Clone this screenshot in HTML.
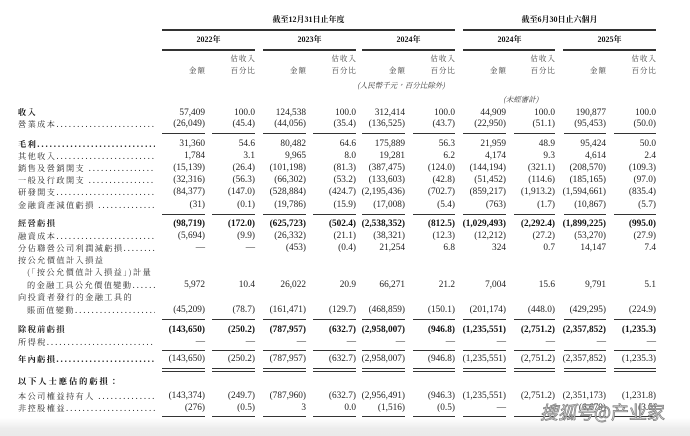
<!DOCTYPE html>
<html>
<head>
<meta charset="utf-8">
<style>
html,body{margin:0;padding:0}
body{width:690px;height:436px;background:#fff;position:relative;overflow:hidden;font-family:"Liberation Serif","Noto Serif CJK TC","Noto Serif CJK SC",serif;color:#222}
.r{position:absolute;left:0;height:12px;line-height:12px;display:grid;grid-template-columns:155px 50px 50px 51px 50px 49px 50px 51px 49px 51px 50px;font-size:9.3px;white-space:nowrap}
.r>span{text-align:right}
.r>div{padding-left:18px;overflow:hidden;font-family:"Noto Serif CJK TC","Noto Serif CJK SC",serif;font-size:8.2px;letter-spacing:1.4px;color:#2a2a2a}
.r>div em{font-style:normal;font-family:"Liberation Serif",serif;font-size:9px;letter-spacing:1.9px}
.r>div.ind{padding-left:27px}
.bd{font-weight:bold;color:#111}
.bl>div{font-weight:bold;color:#111}
.ul{position:absolute;left:0;width:690px;height:1px}
.ul b{position:absolute;top:0;height:1px;background:#333}
.ul b:nth-child(1){left:162px;width:43px}
.ul b:nth-child(2){left:212px;width:43px}
.ul b:nth-child(3){left:263px;width:43px}
.ul b:nth-child(4){left:313px;width:43px}
.ul b:nth-child(5){left:362px;width:43px}
.ul b:nth-child(6){left:413px;width:42px}
.ul b:nth-child(7){left:463px;width:43px}
.ul b:nth-child(8){left:514px;width:41px}
.ul b:nth-child(9){left:564px;width:42px}
.ul b:nth-child(10){left:614px;width:42px}
.hl{position:absolute;height:2px;background:#333}
.h{position:absolute;font-size:8px;line-height:10px;white-space:nowrap;font-family:"Liberation Serif","Noto Serif CJK TC","Noto Serif CJK SC",serif}
.hb{font-weight:bold;color:#111;text-align:center}
.sub{font-family:"Noto Serif CJK TC","Noto Serif CJK SC",serif;font-size:7.4px;letter-spacing:1.1px;color:#3a3a3a;text-align:right}
.it{font-style:italic;color:#333;font-size:7.5px;font-family:"Noto Serif CJK TC","Noto Serif CJK SC",serif}
.band{position:absolute;left:0;top:418px;width:690px;height:18px;background:linear-gradient(#fff,#ececec 60%,#eaeaea)}
.wm{position:absolute;left:540px;top:401px;font-family:"Noto Sans CJK SC",sans-serif;font-size:18px;line-height:22px;color:rgba(225,225,225,0.95);-webkit-text-stroke:0.7px #7a7a7a;white-space:nowrap}
.wm i{font-style:italic}
</style>
</head>
<body>

<div class="h hb" style="left:162px;width:293px;top:15px">截至12月31日止年度</div>
<div class="h hb" style="left:463px;width:193px;top:15px">截至6月30日止六個月</div>
<div class="hl" style="left:162px;width:293px;top:29px"></div>
<div class="hl" style="left:463px;width:193px;top:29px"></div>

<div class="h hb" style="left:162px;width:93px;top:35px">2022年</div>
<div class="h hb" style="left:263px;width:93px;top:35px">2023年</div>
<div class="h hb" style="left:362px;width:93px;top:35px">2024年</div>
<div class="h hb" style="left:463px;width:93px;top:35px">2024年</div>
<div class="h hb" style="left:563px;width:93px;top:35px">2025年</div>
<div class="hl" style="left:162px;width:93px;top:49px"></div>
<div class="hl" style="left:263px;width:93px;top:49px"></div>
<div class="hl" style="left:362px;width:93px;top:49px"></div>
<div class="hl" style="left:463px;width:92px;top:49px"></div>
<div class="hl" style="left:563px;width:93px;top:49px"></div>

<div class="h sub" style="left:205px;width:51px;top:54px">估收入</div>
<div class="h sub" style="left:306px;width:51px;top:54px">估收入</div>
<div class="h sub" style="left:405px;width:51px;top:54px">估收入</div>
<div class="h sub" style="left:505px;width:51px;top:54px">估收入</div>
<div class="h sub" style="left:606px;width:51px;top:54px">估收入</div>

<div class="h sub" style="left:155px;width:51px;top:66px">金額</div>
<div class="h sub" style="left:205px;width:51px;top:66px">百分比</div>
<div class="h sub" style="left:256px;width:51px;top:66px">金額</div>
<div class="h sub" style="left:306px;width:51px;top:66px">百分比</div>
<div class="h sub" style="left:355px;width:51px;top:66px">金額</div>
<div class="h sub" style="left:405px;width:51px;top:66px">百分比</div>
<div class="h sub" style="left:456px;width:51px;top:66px">金額</div>
<div class="h sub" style="left:505px;width:51px;top:66px">百分比</div>
<div class="h sub" style="left:556px;width:51px;top:66px">金額</div>
<div class="h sub" style="left:606px;width:51px;top:66px">百分比</div>

<div class="h it" style="left:357px;top:81px">(人民幣千元，百分比除外)</div>
<div class="h it" style="left:503px;top:95px">(未經審計)</div>

<div class="r bl" style="top:107px"><div>收入</div><span>57,409</span><span>100.0</span><span>124,538</span><span>100.0</span><span>312,414</span><span>100.0</span><span>44,909</span><span>100.0</span><span>190,877</span><span>100.0</span></div>

<div class="r" style="top:118px"><div>營業成本<em>..................................................</em></div><span>(26,049)</span><span>(45.4)</span><span>(44,056)</span><span>(35.4)</span><span>(136,525)</span><span>(43.7)</span><span>(22,950)</span><span>(51.1)</span><span>(95,453)</span><span>(50.0)</span></div>

<div class="ul" style="top:133px"><b></b><b></b><b></b><b></b><b></b><b></b><b></b><b></b><b></b><b></b></div>

<div class="r bl" style="top:138px"><div>毛利<em>..................................................</em></div><span>31,360</span><span>54.6</span><span>80,482</span><span>64.6</span><span>175,889</span><span>56.3</span><span>21,959</span><span>48.9</span><span>95,424</span><span>50.0</span></div>

<div class="r" style="top:150px"><div>其他收入<em>..................................................</em></div><span>1,784</span><span>3.1</span><span>9,965</span><span>8.0</span><span>19,281</span><span>6.2</span><span>4,174</span><span>9.3</span><span>4,614</span><span>2.4</span></div>

<div class="r" style="top:162px"><div>銷售及營銷開支 <em>..................................................</em></div><span>(15,139)</span><span>(26.4)</span><span>(101,198)</span><span>(81.3)</span><span>(387,475)</span><span>(124.0)</span><span>(144,194)</span><span>(321.1)</span><span>(208,570)</span><span>(109.3)</span></div>

<div class="r" style="top:174px"><div>一般及行政開支 <em>..................................................</em></div><span>(32,316)</span><span>(56.3)</span><span>(66,302)</span><span>(53.2)</span><span>(133,603)</span><span>(42.8)</span><span>(51,452)</span><span>(114.6)</span><span>(185,165)</span><span>(97.0)</span></div>

<div class="r" style="top:186px"><div>研發開支<em>..................................................</em></div><span>(84,377)</span><span>(147.0)</span><span>(528,884)</span><span>(424.7)</span><span>(2,195,436)</span><span>(702.7)</span><span>(859,217)</span><span>(1,913.2)</span><span>(1,594,661)</span><span>(835.4)</span></div>

<div class="r" style="top:199px"><div>金融資產減值虧損 <em>..................................................</em></div><span>(31)</span><span>(0.1)</span><span>(19,786)</span><span>(15.9)</span><span>(17,008)</span><span>(5.4)</span><span>(763)</span><span>(1.7)</span><span>(10,867)</span><span>(5.7)</span></div>

<div class="ul" style="top:214px"><b></b><b></b><b></b><b></b><b></b><b></b><b></b><b></b><b></b><b></b></div>

<div class="r bd" style="top:218px"><div>經營虧損</div><span>(98,719)</span><span>(172.0)</span><span>(625,723)</span><span>(502.4)</span><span>(2,538,352)</span><span>(812.5)</span><span>(1,029,493)</span><span>(2,292.4)</span><span>(1,899,225)</span><span>(995.0)</span></div>

<div class="r" style="top:230px"><div>融資成本<em>..................................................</em></div><span>(5,694)</span><span>(9.9)</span><span>(26,332)</span><span>(21.1)</span><span>(38,321)</span><span>(12.3)</span><span>(12,212)</span><span>(27.2)</span><span>(53,270)</span><span>(27.9)</span></div>

<div class="r" style="top:242px"><div>分佔聯營公司利潤減虧損<em>..................................................</em></div><span>—</span><span>—</span><span>(453)</span><span>(0.4)</span><span>21,254</span><span>6.8</span><span>324</span><span>0.7</span><span>14,147</span><span>7.4</span></div>

<div class="r" style="top:255px"><div>按公允價值計入損益</div></div>

<div class="r" style="top:267px"><div class="ind">(「按公允價值計入損益」)計量</div></div>

<div class="r" style="top:279px"><div class="ind">的金融工具公允價值變動<em>..................................................</em></div><span>5,972</span><span>10.4</span><span>26,022</span><span>20.9</span><span>66,271</span><span>21.2</span><span>7,004</span><span>15.6</span><span>9,791</span><span>5.1</span></div>

<div class="r" style="top:292px"><div>向投資者發行的金融工具的</div></div>

<div class="r" style="top:304px"><div class="ind">賬面值變動<em>..................................................</em></div><span>(45,209)</span><span>(78.7)</span><span>(161,471)</span><span>(129.7)</span><span>(468,859)</span><span>(150.1)</span><span>(201,174)</span><span>(448.0)</span><span>(429,295)</span><span>(224.9)</span></div>

<div class="ul" style="top:319px"><b></b><b></b><b></b><b></b><b></b><b></b><b></b><b></b><b></b><b></b></div>

<div class="r bd" style="top:324px"><div>除稅前虧損</div><span>(143,650)</span><span>(250.2)</span><span>(787,957)</span><span>(632.7)</span><span>(2,958,007)</span><span>(946.8)</span><span>(1,235,551)</span><span>(2,751.2)</span><span>(2,357,852)</span><span>(1,235.3)</span></div>

<div class="r" style="top:336px"><div>所得稅<em>..................................................</em></div><span>—</span><span>—</span><span>—</span><span>—</span><span>—</span><span>—</span><span>—</span><span>—</span><span>—</span><span>—</span></div>

<div class="ul" style="top:350px"><b></b><b></b><b></b><b></b><b></b><b></b><b></b><b></b><b></b><b></b></div>

<div class="r bl" style="top:353px"><div>年內虧損<em>..................................................</em></div><span>(143,650)</span><span>(250.2)</span><span>(787,957)</span><span>(632.7)</span><span>(2,958,007)</span><span>(946.8)</span><span>(1,235,551)</span><span>(2,751.2)</span><span>(2,357,852)</span><span>(1,235.3)</span></div>

<div class="ul" style="top:368px"><b></b><b></b><b></b><b></b><b></b><b></b><b></b><b></b><b></b><b></b></div>
<div class="ul" style="top:371px"><b></b><b></b><b></b><b></b><b></b><b></b><b></b><b></b><b></b><b></b></div>

<div class="r bl" style="top:376px"><div style="letter-spacing:2px">以下人士應佔的虧損：</div></div>

<div class="r" style="top:390px"><div>本公司權益持有人 <em>..................................................</em></div><span>(143,374)</span><span>(249.7)</span><span>(787,960)</span><span>(632.7)</span><span>(2,956,491)</span><span>(946.3)</span><span>(1,235,551)</span><span>(2,751.2)</span><span>(2,351,173)</span><span>(1,231.8)</span></div>

<div class="r" style="top:402px"><div>非控股權益<em>..................................................</em></div><span>(276)</span><span>(0.5)</span><span>3</span><span>0.0</span><span>(1,516)</span><span>(0.5)</span><span>—</span><span>—</span><span>(6,679)</span><span>(3.5)</span></div>

<div class="ul" style="top:416px"><b></b><b></b><b></b><b></b><b></b><b></b><b></b><b></b><b></b><b></b></div>

<div class="band"></div>

<div class="wm"><i>搜狐号</i>@产业家</div>

</body>
</html>
